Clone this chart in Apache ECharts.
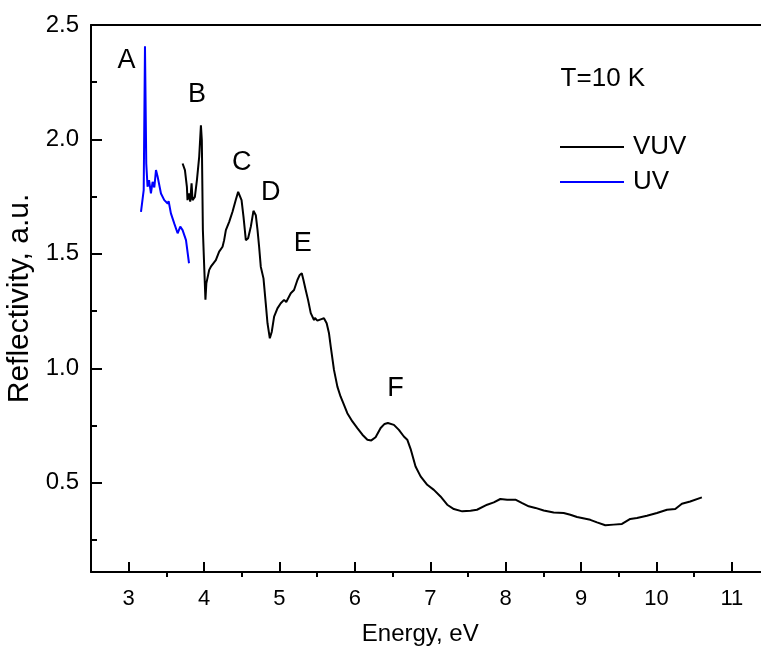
<!DOCTYPE html>
<html><head><meta charset="utf-8">
<script src="https://cdn.jsdelivr.net/npm/echarts@6/dist/echarts.min.js"></script>
<style>html,body{margin:0;padding:0;background:#fff}#c{width:761px;height:653px}</style>
</head><body><div id="c"></div>
<script>
// UV series (blue): [energy eV, reflectivity]
const uvEnergy = [3.163,3.199,3.216,3.233,3.25,3.27,3.295,3.317,3.34,3.362,3.384,3.428,3.472,3.517,3.53,3.56,3.604,3.649,3.684,3.715,3.76,3.80];
const uvRefl   = [1.684,1.779,2.407,1.895,1.793,1.822,1.764,1.815,1.79,1.866,1.837,1.764,1.735,1.72,1.73,1.677,1.633,1.59,1.619,1.604,1.56,1.459];

// VUV series (black)
const vuvEnergy = [3.715,3.746,3.772,3.78,3.80,3.816,3.834,3.847,3.878,3.905,3.935,3.958,3.97,3.984,4.0,4.018,4.03,4.068,4.09,4.11,4.156,4.2,4.245,4.266,4.289,4.333,4.377,4.42,4.452,4.474,4.497,4.523,4.554,4.584,4.62,4.655,4.686,4.709,4.73,4.752,4.788,4.818,4.841,4.872,4.898,4.929,4.973,5.017,5.061,5.09,5.15,5.193,5.238,5.269,5.296,5.318,5.348,5.379,5.415,5.458,5.47,5.503,5.547,5.59,5.626,5.657,5.68,5.723,5.768,5.81,5.856,5.90,5.967,6.033,6.1,6.166,6.218,6.275,6.342,6.394,6.438,6.46,6.518,6.584,6.65,6.695,6.74,6.805,6.872,6.96,7.048,7.136,7.225,7.313,7.424,7.534,7.62,7.755,7.843,7.93,8.02,8.13,8.22,8.306,8.395,8.505,8.637,8.77,8.858,8.947,9.123,9.212,9.322,9.432,9.543,9.653,9.742,9.874,10.007,10.14,10.25,10.338,10.448,10.603];
const vuvRefl   = [1.895,1.866,1.793,1.735,1.764,1.728,1.808,1.735,1.749,1.822,1.924,2.062,1.997,1.604,1.459,1.30,1.371,1.43,1.444,1.437,1.473,1.51,1.531,1.56,1.604,1.64,1.684,1.735,1.771,1.776,1.735,1.662,1.56,1.568,1.619,1.688,1.669,1.604,1.531,1.444,1.393,1.284,1.197,1.131,1.16,1.226,1.262,1.284,1.299,1.29,1.328,1.342,1.386,1.408,1.415,1.386,1.342,1.299,1.241,1.211,1.22,1.208,1.214,1.219,1.197,1.153,1.095,0.993,0.92,0.877,0.84,0.804,0.768,0.739,0.71,0.688,0.685,0.699,0.739,0.757,0.761,0.763,0.753,0.731,0.702,0.688,0.647,0.571,0.528,0.491,0.469,0.44,0.404,0.385,0.375,0.378,0.382,0.404,0.414,0.429,0.426,0.426,0.411,0.397,0.39,0.379,0.37,0.368,0.36,0.35,0.338,0.327,0.314,0.317,0.32,0.342,0.346,0.356,0.368,0.382,0.385,0.408,0.418,0.436];

// Axis ticks
const xMajorTicks = [3,4,5,6,7,8,9,10,11];
const xMinorTicks = [3.5,4.5,5.5,6.5,7.5,8.5,9.5,10.5,11.5];
const yMajorTicks = [0.5,1.0,1.5,2.0,2.5];
const yMinorTicks = [0.25,0.75,1.25,1.75,2.25];

// Peak annotations (data coordinates)
const peakNames = ['A','B','C','D','E','F'];
const peakX = [2.97,3.905,4.5,4.885,5.31,6.54];
const peakY = [2.346,2.198,1.90,1.77,1.547,0.91];

const FONT = '"Liberation Sans", Arial, sans-serif';
const zip = (a,b)=>a.map((v,i)=>[v,b[i]]);

const chart = echarts.init(document.getElementById('c'), null, {renderer:'canvas'});
const lineStyleAxis = {color:'#000', width:2};
chart.setOption({
  animation:false,
  backgroundColor:'#fff',
  grid:{left:91, top:25, right:-8.5, bottom:81, containLabel:false, outerBoundsMode:'none'},
  xAxis:[
    {type:'value', min:2.5, max:11.5, position:'bottom',
     name:'Energy, eV', nameLocation:'middle', nameGap:50,
     nameTextStyle:{fontFamily:FONT, fontSize:24, color:'#000', padding:[0,20,0,0]},
     axisLine:{show:true, onZero:false, lineStyle:lineStyleAxis},
     axisTick:{show:true, inside:true, length:10, customValues:xMajorTicks, lineStyle:{color:'#000', width:2}},
     axisLabel:{show:true, customValues:xMajorTicks, margin:16, fontFamily:FONT, fontSize:22, color:'#000'},
     splitLine:{show:false}},
    {type:'value', min:2.5, max:11.5, position:'bottom',
     axisLine:{show:false, onZero:false},
     axisTick:{show:true, inside:false, length:5, customValues:xMinorTicks, lineStyle:{color:'#000', width:2}},
     axisLabel:{show:false}, splitLine:{show:false}},
    {type:'value', min:2.5, max:11.5, position:'top',
     axisLine:{show:true, onZero:false, lineStyle:lineStyleAxis},
     axisTick:{show:false}, axisLabel:{show:false}, splitLine:{show:false}}
  ],
  yAxis:[
    {type:'value', min:0.11, max:2.5, position:'left',
     name:'Reflectivity, a.u.', nameLocation:'middle', nameGap:50, nameRotate:90,
     nameTextStyle:{fontFamily:FONT, fontSize:30, color:'#000'},
     axisLine:{show:true, onZero:false, lineStyle:lineStyleAxis},
     axisTick:{show:true, inside:true, length:11, customValues:yMajorTicks, lineStyle:{color:'#000', width:2}},
     axisLabel:{show:true, customValues:yMajorTicks, margin:12, fontFamily:FONT, fontSize:24, color:'#000',
                formatter:v=>Number(v).toFixed(1)},
     splitLine:{show:false}},
    {type:'value', min:0.11, max:2.5, position:'left',
     axisLine:{show:false, onZero:false},
     axisTick:{show:true, inside:true, length:6, customValues:yMinorTicks, lineStyle:{color:'#000', width:2}},
     axisLabel:{show:false}, splitLine:{show:false}}
  ],
  legend:{
    orient:'vertical', left:555, top:129, itemWidth:64, itemHeight:2, itemGap:9,
    icon:'rect', data:['VUV','UV'],
    textStyle:{fontFamily:FONT, fontSize:26, color:'#000', lineHeight:26, padding:[0,0,0,4]}
  },
  series:[
    {name:'UV', type:'line', xAxisIndex:0, yAxisIndex:0, data:zip(uvEnergy,uvRefl),
     showSymbol:false, symbol:'none', lineStyle:{color:'#0000ff', width:2}, itemStyle:{color:'#0000ff'}},
    {name:'VUV', type:'line', xAxisIndex:0, yAxisIndex:0, data:zip(vuvEnergy,vuvRefl),
     showSymbol:false, symbol:'none', lineStyle:{color:'#000', width:2}, itemStyle:{color:'#000'}}
  ]
});

const g = [];
peakNames.forEach((t,i)=>{
  const p = chart.convertToPixel({xAxisIndex:0, yAxisIndex:0}, [peakX[i], peakY[i]]);
  g.push({type:'text', x:p[0], y:p[1], style:{text:t, fontFamily:FONT, fontSize:27, fill:'#000', align:'center', verticalAlign:'middle'}});
});
const tp = chart.convertToPixel({xAxisIndex:0, yAxisIndex:0}, [9.29, 2.263]);
g.push({type:'text', x:tp[0], y:tp[1], style:{text:'T=10 K', fontFamily:FONT, fontSize:26, fill:'#000', align:'center', verticalAlign:'middle'}});
chart.setOption({graphic:g});
</script></body></html>
